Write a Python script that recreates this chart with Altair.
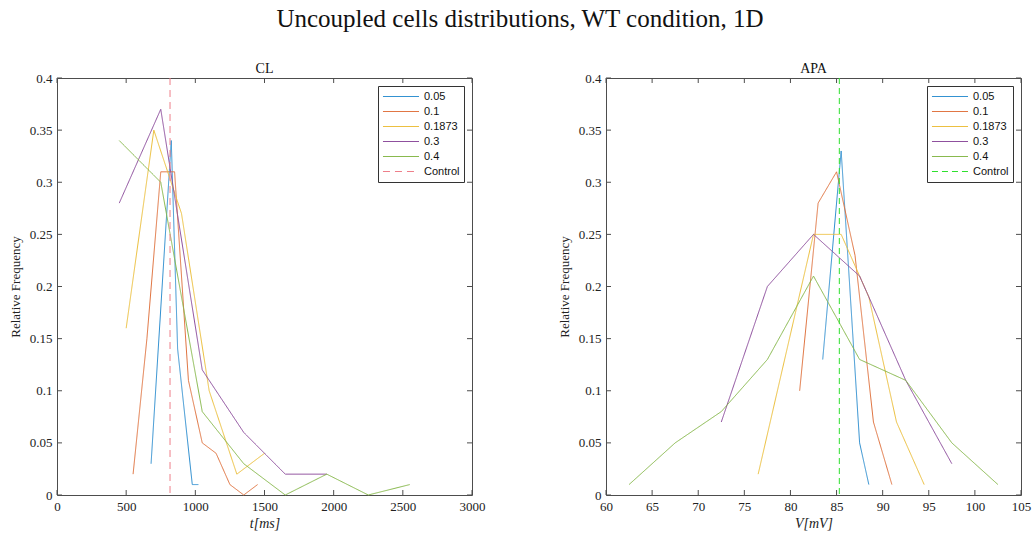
import altair as alt
import pandas as pd

series = ["0.05", "0.1", "0.1873", "0.3", "0.4"]
line_colors = ["#2f8fd0", "#e0733f", "#ecbf3c", "#8c4c9c", "#86b84a"]

# CL panel (ms)
cl_x = {
    "0.05": [680, 826, 872, 978, 1022],
    "0.1": [550, 650, 750, 850, 950, 1050, 1150, 1250, 1350, 1450],
    "0.1873": [500, 700, 900, 1100, 1300, 1500],
    "0.3": [450, 750, 1050, 1350, 1650, 1950],
    "0.4": [450, 750, 1050, 1350, 1650, 1950, 2250, 2550],
}
cl_y = {
    "0.05": [0.03, 0.34, 0.14, 0.01, 0.01],
    "0.1": [0.02, 0.15, 0.31, 0.31, 0.11, 0.05, 0.04, 0.01, 0.0, 0.01],
    "0.1873": [0.16, 0.35, 0.27, 0.10, 0.02, 0.04],
    "0.3": [0.28, 0.37, 0.12, 0.06, 0.02, 0.02],
    "0.4": [0.34, 0.30, 0.08, 0.03, 0.0, 0.02, 0.0, 0.01],
}
cl_control = [817]

# APA panel (mV)
apa_x = {
    "0.05": [83.5, 85.5, 87.5, 88.5],
    "0.1": [81, 83, 85, 87, 89, 91],
    "0.1873": [76.5, 82.5, 85.5, 88.5, 91.5, 94.5],
    "0.3": [72.5, 77.5, 82.5, 87.5, 92.5, 97.5],
    "0.4": [62.5, 67.5, 72.5, 77.5, 82.5, 87.5, 92.5, 97.5, 102.5],
}
apa_y = {
    "0.05": [0.13, 0.33, 0.05, 0.01],
    "0.1": [0.10, 0.28, 0.31, 0.23, 0.07, 0.01],
    "0.1873": [0.02, 0.25, 0.25, 0.19, 0.07, 0.01],
    "0.3": [0.07, 0.20, 0.25, 0.21, 0.11, 0.03],
    "0.4": [0.01, 0.05, 0.08, 0.13, 0.21, 0.13, 0.11, 0.05, 0.01],
}
apa_control = [85.3]

cl_xticks = [0, 500, 1000, 1500, 2000, 2500, 3000]
apa_xticks = [60, 65, 70, 75, 80, 85, 90, 95, 100, 105]
yticks = [0, 0.05, 0.1, 0.15, 0.2, 0.25, 0.3, 0.35, 0.4]

W, H = 415, 417
TL = 5
FRAME = "#4d4d4d"
SERIF = "Liberation Serif"


def panel(xs, ys, control, xticks, xdom, xfmt, ctrl_color, ctrl_width, ctrl_dash, title, xtitle):
    rows = []
    for s in series:
        for i, (xv, yv) in enumerate(zip(xs[s], ys[s])):
            rows.append({"x": xv, "y": yv, "series": s, "order": i})
    df = pd.DataFrame(rows)
    cdf = pd.DataFrame({"x": control, "series": ["Control"] * len(control)})
    dom = series + ["Control"]
    rng = line_colors + [ctrl_color]
    dashes = [[1, 0]] * 5 + [ctrl_dash]
    xscale = alt.Scale(domain=xdom, nice=False, zero=False)
    yscale = alt.Scale(domain=[0, 0.4], nice=False)
    legend = alt.Legend(
        title=None, orient="top-right", offset=8,
        labelFont="Liberation Sans", labelFontSize=11, labelColor="#111",
        symbolType="stroke", symbolSize=1300, symbolStrokeWidth=1.5,
        strokeColor="#333", fillColor="white", padding=4, rowPadding=2,
        clipHeight=13, labelOffset=4,
    )
    color = alt.Color("series:N", scale=alt.Scale(domain=dom, range=rng), legend=legend)
    dash = alt.StrokeDash("series:N", scale=alt.Scale(domain=dom, range=dashes), legend=legend)
    sw = alt.StrokeWidth("series:N", scale=alt.Scale(domain=dom, range=[1] * 5 + [ctrl_width]), legend=None)

    lines = alt.Chart(df).mark_line().encode(
        x=alt.X("x:Q", scale=xscale,
                axis=alt.Axis(values=xticks, format=xfmt, title=xtitle, labelPadding=5, titlePadding=3,
                              titleFontStyle="italic", titleFontSize=14, labelFlush=False)),
        y=alt.Y("y:Q", scale=yscale,
                axis=alt.Axis(values=yticks, format=".2~f", title="Relative Frequency",
                              labelPadding=5, titlePadding=7, labelFlush=False)),
        color=color, strokeDash=dash, strokeWidth=sw, order="order:Q",
    )
    ctrl = alt.Chart(cdf).mark_rule().encode(
        x=alt.X("x:Q", scale=xscale), color=color, strokeDash=dash, strokeWidth=sw,
    )
    xt = pd.DataFrame({"x": xticks})
    yt = pd.DataFrame({"y": yticks})
    tb = alt.Chart(xt).mark_rule(color=FRAME, strokeWidth=1).encode(
        x=alt.X("x:Q", scale=xscale), y=alt.value(H), y2=alt.value(H - TL))
    tt = alt.Chart(xt).mark_rule(color=FRAME, strokeWidth=1).encode(
        x=alt.X("x:Q", scale=xscale), y=alt.value(0), y2=alt.value(TL))
    tl = alt.Chart(yt).mark_rule(color=FRAME, strokeWidth=1).encode(
        y=alt.Y("y:Q", scale=yscale), x=alt.value(0), x2=alt.value(TL))
    tr = alt.Chart(yt).mark_rule(color=FRAME, strokeWidth=1).encode(
        y=alt.Y("y:Q", scale=yscale), x=alt.value(W), x2=alt.value(W - TL))
    return alt.layer(lines, ctrl, tb, tt, tl, tr).properties(
        width=W, height=H,
        title=alt.TitleParams(title, font=SERIF, fontSize=14, fontWeight="normal",
                              color="#111", offset=-4),
    )


left = panel(cl_x, cl_y, cl_control, cl_xticks, [0, 3000], "d", "#ee7f8a", 2, [7, 5], "CL", "t[ms]")
right = panel(apa_x, apa_y, apa_control, apa_xticks, [60, 105], "d", "#2ee02e", 1.5, [6, 4], "APA", "V[mV]")

chart = alt.hconcat(left, right, spacing=71).resolve_scale(
    color="independent", strokeDash="independent", strokeWidth="independent"
).properties(
    title=alt.TitleParams("Uncoupled cells distributions, WT condition, 1D", font=SERIF,
                          fontSize=25, fontWeight="normal", color="#111", anchor="middle", offset=30),
    padding={"left": 8, "top": 6, "right": 0, "bottom": 5},
).configure_view(stroke=FRAME, strokeWidth=1).configure_axis(
    labelFont=SERIF, labelFontSize=13, labelColor="#222", titleFont=SERIF, titleFontSize=13,
    titleFontWeight="normal", titleColor="#222", grid=False, ticks=False, domain=False,
)

chart.save("out.html", embed_options={"renderer": "svg", "actions": False})
